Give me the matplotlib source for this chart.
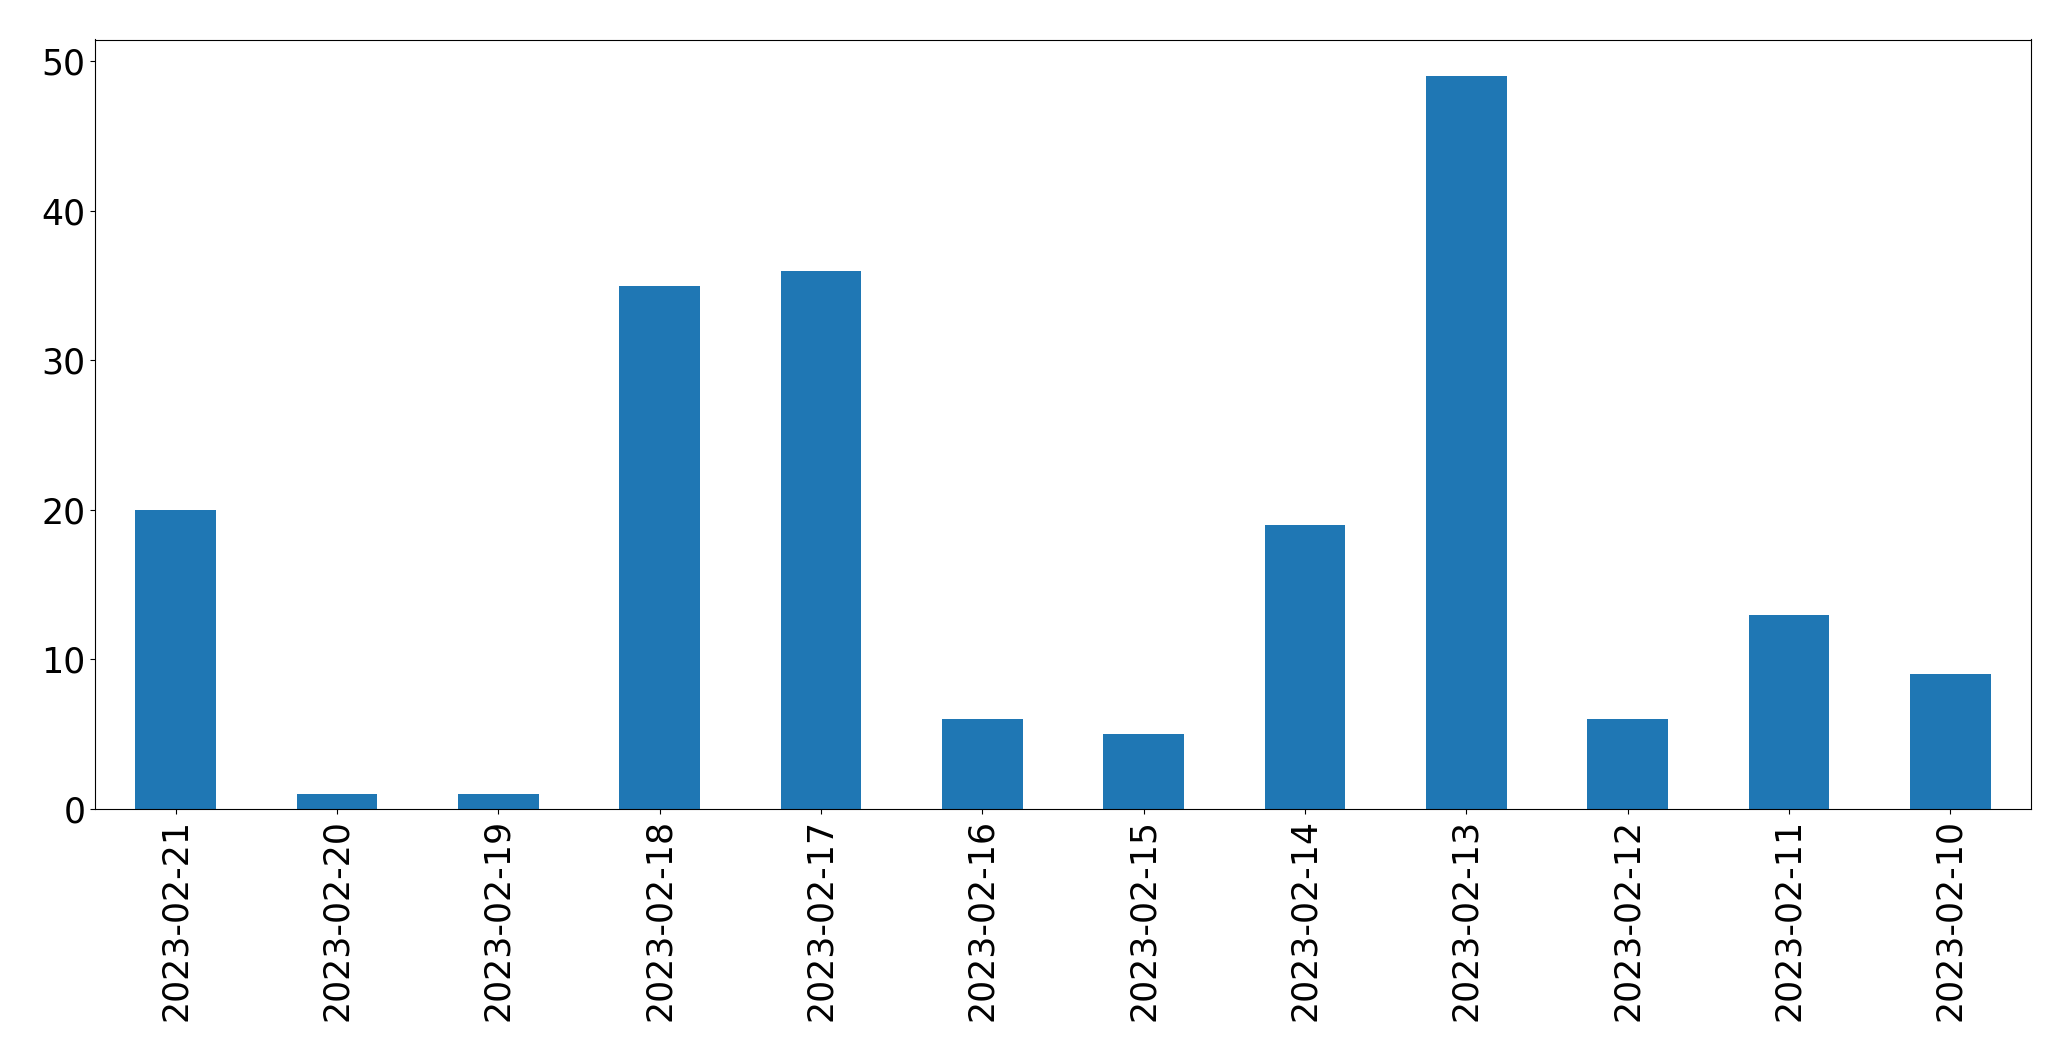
import matplotlib
matplotlib.use('Agg')
import matplotlib.pyplot as plt
import pandas as pd

dates = ['2023-02-21', '2023-02-20', '2023-02-19', '2023-02-18', '2023-02-17', '2023-02-16',
         '2023-02-15', '2023-02-14', '2023-02-13', '2023-02-12', '2023-02-11', '2023-02-10']
counts = [20, 1, 1, 35, 36, 6, 5, 19, 49, 6, 13, 9]

s = pd.Series(counts, index=dates)

fig = plt.figure(figsize=(20.71, 10.61), dpi=100)
ax = fig.add_axes([95 / 2071, 1 - 809 / 1061, (2031 - 95) / 2071, (809 - 39.5) / 1061])
s.plot(kind='bar', ax=ax, color='#1f77b4', fontsize=25)

fig.savefig('out.png', dpi=100)
